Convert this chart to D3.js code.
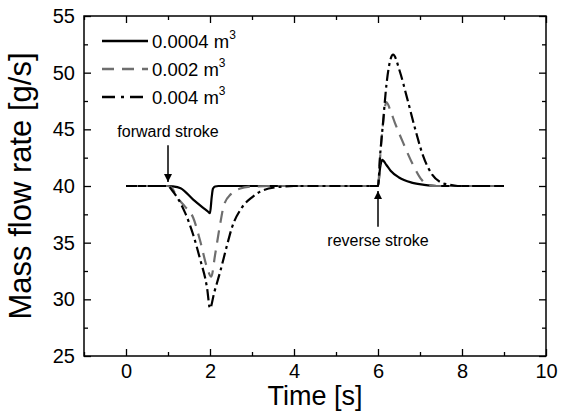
<!DOCTYPE html>
<html lang="en">
	<head>
		<meta charset="utf-8">
		<title>Mass flow rate vs time</title>
		<script src="https://d3js.org/d3.v7.min.js"></script>
		<style type="text/css">
			body { margin: 0; background: #fff; }
			text { font-family: "Liberation Sans", Arial, sans-serif; fill: #000; }
		</style>
	</head>
	<body>
		<script type="text/javascript">
			//Width and height
			var width = 564;
			var height = 413;
			var margin = { top: 16, right: 18, bottom: 57, left: 84 };
			var w = width - margin.left - margin.right;
			var h = height - margin.top - margin.bottom;

			//Data
			var labels = ["0.0004", "0.002", "0.004"];

			var tSmall = [0, 1.0, 1.1, 1.3, 1.6, 1.83, 1.95, 2.0, 2.04, 2.07, 2.12, 2.2, 6.0, 6.05, 6.1, 6.2, 6.3, 6.5, 6.8, 7.1, 7.4, 9];
			var vSmall = [40, 40, 39.97, 39.8, 38.8, 38.1, 37.75, 37.6, 39.0, 39.75, 39.95, 40, 40, 41.6, 42.3, 41.85, 41.35, 40.75, 40.3, 40.1, 40.0, 40];

			var tMid = [0, 1.0, 1.1, 1.2, 1.4, 1.6, 1.77, 1.93, 2.03, 2.12, 2.24, 2.33, 2.5, 2.7, 3.0, 3.5, 6.0, 6.05, 6.12, 6.2, 6.3, 6.4, 6.6, 6.83, 7.05, 7.2, 7.4, 9];
			var vMid = [40, 40, 39.8, 39.1, 38.2, 37.2, 35.1, 32.8, 32.0, 33.9, 36.6, 38.3, 39.3, 39.75, 39.95, 40, 40, 42.5, 45.5, 47.4, 46.6, 45.6, 43.8, 41.9, 40.5, 40.05, 40, 40];

			var tLarge = [0, 1.0, 1.1, 1.25, 1.4, 1.6, 1.76, 1.93, 2.0, 2.1, 2.24, 2.4, 2.52, 2.76, 3.0, 3.19, 3.6, 4.0, 6.0, 6.05, 6.12, 6.2, 6.36, 6.52, 6.69, 6.88, 7.07, 7.29, 7.48, 7.71, 7.9, 9];
			var vLarge = [40, 40, 39.6, 38.8, 37.7, 35.7, 33.6, 31.0, 29.2, 30.6, 32.4, 34.7, 36.3, 38.1, 39.0, 39.5, 39.9, 40, 40, 42.7, 45.6, 48.9, 51.6, 50.1, 47.8, 45.1, 42.7, 41.0, 40.35, 40.1, 40, 40];

			var xMajor = [0, 2, 4, 6, 8, 10];
			var xMinor = [-1, 1, 3, 5, 7, 9];
			var yMajor = [25, 30, 35, 40, 45, 50, 55];
			var yMinor = [27.5, 32.5, 37.5, 42.5, 47.5, 52.5];

			var series = [
				{ t: tSmall, v: vSmall, color: "#000", dash: null },
				{ t: tMid, v: vMid, color: "#6e6e6e", dash: "12,8" },
				{ t: tLarge, v: vLarge, color: "#000", dash: "11,4,3,4" }
			];

			var x = d3.scaleLinear().domain([-1, 10]).range([0, w]);
			var y = d3.scaleLinear().domain([25, 55]).range([h, 0]);

			//Create SVG element
			var svg = d3.select("body")
						.append("svg")
							.attr("width", width)
							.attr("height", height)
							.append("g")
							.attr("transform", "translate(" + margin.left + "," + margin.top + ")");

			var line = d3.line()
				.x(function(d) { return x(d[0]); })
				.y(function(d) { return y(d[1]); })
				.curve(d3.curveMonotoneX);

			svg.selectAll("path.series")
			   .data(series)
			   .enter()
			   .append("path")
			   .attr("class", "series")
			   .attr("d", function(s) {
			   		return line(s.t.map(function(t, i) { return [t, s.v[i]]; }));
			   })
			   .attr("fill", "none")
			   .attr("stroke", function(s) { return s.color; })
			   .attr("stroke-width", 2.2)
			   .attr("stroke-dasharray", function(s) { return s.dash; });

			//Axes, ticks pointing inward on all four sides
			function addAxis(axis, tr, labels) {
				var g = svg.append("g").attr("transform", tr).call(axis);
				g.select(".domain").remove();
				g.selectAll("line").attr("stroke", "#000").attr("stroke-width", 1.3);
				if (!labels) g.selectAll("text").remove();
				return g;
			}

			var bottomAxis = d3.axisBottom(x).tickValues(xMajor).tickSize(-7).tickSizeOuter(0).tickPadding(8);
			addAxis(bottomAxis, "translate(0," + h + ")", true)
				.selectAll("text").attr("font-size", "20px").attr("font-family", null);
			addAxis(d3.axisBottom(x).tickValues(xMinor).tickSize(-4).tickSizeOuter(0), "translate(0," + h + ")", false);
			addAxis(d3.axisTop(x).tickValues(xMajor).tickSize(-7).tickSizeOuter(0), "translate(0,0)", false);
			addAxis(d3.axisTop(x).tickValues(xMinor).tickSize(-4).tickSizeOuter(0), "translate(0,0)", false);

			var leftAxis = d3.axisLeft(y).tickValues(yMajor).tickSize(-7).tickSizeOuter(0).tickPadding(9);
			addAxis(leftAxis, "translate(0,0)", true)
				.selectAll("text").attr("font-size", "20px").attr("font-family", null);
			addAxis(d3.axisLeft(y).tickValues(yMinor).tickSize(-4).tickSizeOuter(0), "translate(0,0)", false);
			addAxis(d3.axisRight(y).tickValues(yMajor).tickSize(-7).tickSizeOuter(0), "translate(" + w + ",0)", false);
			addAxis(d3.axisRight(y).tickValues(yMinor).tickSize(-4).tickSizeOuter(0), "translate(" + w + ",0)", false);

			svg.append("rect")
				.attr("width", w)
				.attr("height", h)
				.attr("fill", "none")
				.attr("stroke", "#000")
				.attr("stroke-width", 1.5);

			//Axis titles
			svg.append("text")
				.attr("x", w / 2)
				.attr("y", h + 49)
				.attr("text-anchor", "middle")
				.attr("font-size", "27px")
				.text("Time [s]");

			svg.append("text")
				.attr("transform", "translate(" + (31 - margin.left) + "," + (h / 2) + ") rotate(-90)")
				.attr("text-anchor", "middle")
				.attr("font-size", "31px")
				.text("Mass flow rate [g/s]");

			//Legend
			var legend = svg.selectAll("g.legend")
				.data(series)
				.enter()
				.append("g")
				.attr("class", "legend")
				.attr("transform", function(d, i) { return "translate(18," + (25 + i * 28) + ")"; });

			legend.append("line")
				.attr("x1", 0)
				.attr("x2", 46)
				.attr("stroke", function(d) { return d.color; })
				.attr("stroke-width", 2.4)
				.attr("stroke-dasharray", function(d, i) { return i == 2 ? "13,6,3,6" : d.dash; });

			var lt = legend.append("text")
				.attr("x", 50)
				.attr("y", 7)
				.attr("font-size", "18.5px");
			lt.append("tspan").text(function(d, i) { return labels[i] + " m"; });
			lt.append("tspan").attr("font-size", "12px").attr("dy", -9).text("3");

			//Annotations with arrows
			svg.append("defs").append("marker")
				.attr("id", "head")
				.attr("viewBox", "0 0 10 10")
				.attr("refX", 10)
				.attr("refY", 5)
				.attr("markerWidth", 10)
				.attr("markerHeight", 8)
				.attr("markerUnits", "userSpaceOnUse")
				.attr("orient", "auto")
				.append("path")
				.attr("d", "M0,0L10,5L0,10z")
				.attr("fill", "#000");

			var notes = [
				{ t: 1, label: "forward stroke", textY: 44.3, y1: 43.6, y2: 40.35 },
				{ t: 6, label: "reverse stroke", textY: 34.7, y1: 36.4, y2: 39.55 }
			];

			svg.selectAll("line.arrow")
				.data(notes)
				.enter()
				.append("line")
				.attr("class", "arrow")
				.attr("x1", function(d) { return x(d.t); })
				.attr("x2", function(d) { return x(d.t); })
				.attr("y1", function(d) { return y(d.y1); })
				.attr("y2", function(d) { return y(d.y2); })
				.attr("stroke", "#000")
				.attr("stroke-width", 1.5)
				.attr("marker-end", "url(#head)");

			svg.selectAll("text.note")
				.data(notes)
				.enter()
				.append("text")
				.attr("class", "note")
				.attr("x", function(d) { return x(d.t); })
				.attr("y", function(d) { return y(d.textY); })
				.attr("text-anchor", "middle")
				.attr("font-size", "16px")
				.text(function(d) { return d.label; });
		</script>
	</body>
</html>
